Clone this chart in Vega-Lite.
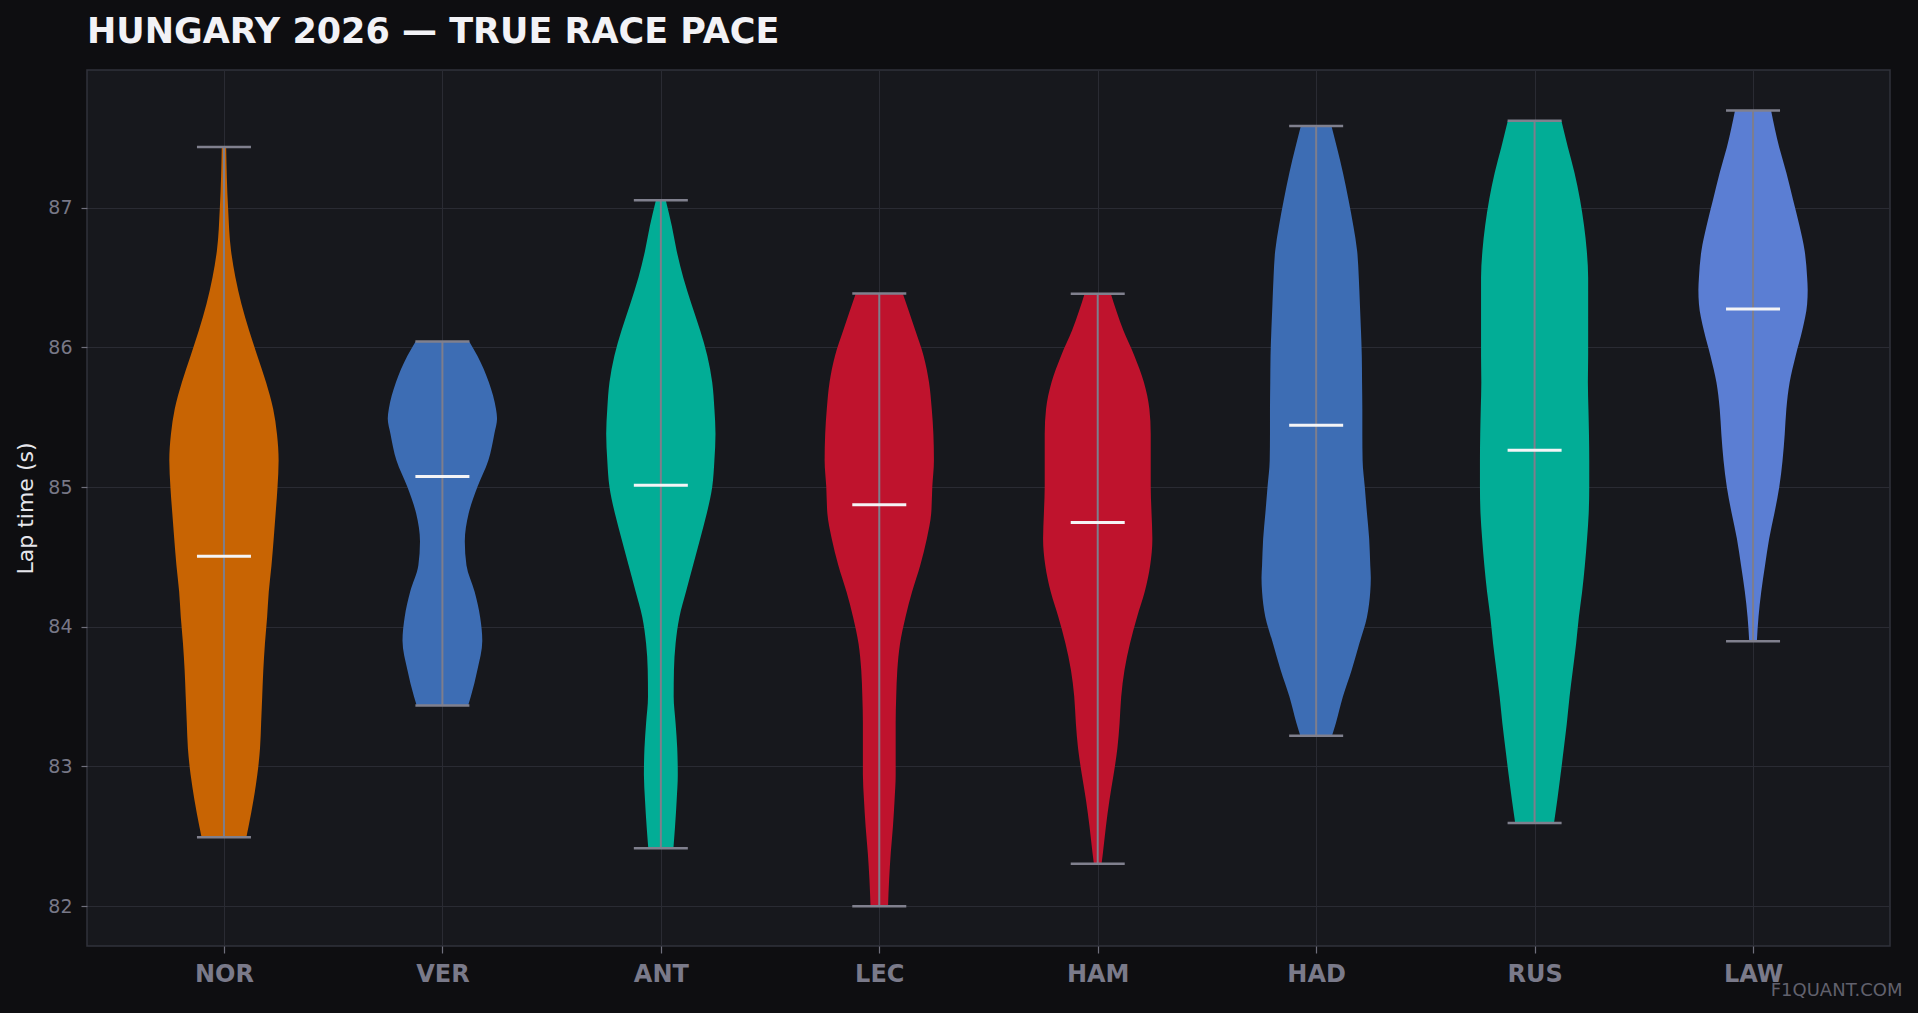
{
  "$schema": "https://vega.github.io/schema/vega-lite/v6.json",
  "width": 1803,
  "height": 876,
  "autosize": {"type": "none"},
  "padding": {"left": 87, "top": 70, "right": 28, "bottom": 67},
  "background": "#0e0e11",
  "config": {
    "font": "DejaVu Sans",
    "view": {"fill": "#17181d", "stroke": "#31323b", "strokeWidth": 1.5}
  },
  "title": {
    "text": "HUNGARY 2026 — TRUE RACE PACE",
    "anchor": "start",
    "frame": "group",
    "orient": "top",
    "baseline": "alphabetic",
    "offset": 26,
    "dy": 34,
    "fontSize": 35,
    "fontWeight": "bold",
    "color": "#f2f2f6",
    "font": "DejaVu Sans"
  },
  "datasets": {
    "violin": [
      {"d": "NOR", "t": 87.434, "w": 0.04}, {"d": "NOR", "t": 87.0, "w": 0.075}, {"d": "NOR", "t": 86.69, "w": 0.13}, {"d": "NOR", "t": 86.5, "w": 0.21}, {"d": "NOR", "t": 86.31, "w": 0.32}, {"d": "NOR", "t": 86.12, "w": 0.46}, {"d": "NOR", "t": 85.94, "w": 0.61}, {"d": "NOR", "t": 85.75, "w": 0.77}, {"d": "NOR", "t": 85.56, "w": 0.9}, {"d": "NOR", "t": 85.38, "w": 0.97}, {"d": "NOR", "t": 85.19, "w": 1.0}, {"d": "NOR", "t": 85.0, "w": 0.98}, {"d": "NOR", "t": 84.81, "w": 0.945}, {"d": "NOR", "t": 84.63, "w": 0.91}, {"d": "NOR", "t": 84.44, "w": 0.87}, {"d": "NOR", "t": 84.25, "w": 0.82}, {"d": "NOR", "t": 84.07, "w": 0.79}, {"d": "NOR", "t": 83.88, "w": 0.75}, {"d": "NOR", "t": 83.69, "w": 0.72}, {"d": "NOR", "t": 83.5, "w": 0.7}, {"d": "NOR", "t": 83.31, "w": 0.68}, {"d": "NOR", "t": 83.13, "w": 0.66}, {"d": "NOR", "t": 82.94, "w": 0.61}, {"d": "NOR", "t": 82.76, "w": 0.54}, {"d": "NOR", "t": 82.57, "w": 0.45}, {"d": "NOR", "t": 82.494, "w": 0.41},
      {"d": "VER", "t": 86.042, "w": 0.49}, {"d": "VER", "t": 85.94, "w": 0.64}, {"d": "VER", "t": 85.75, "w": 0.85}, {"d": "VER", "t": 85.56, "w": 0.98}, {"d": "VER", "t": 85.49, "w": 1.0}, {"d": "VER", "t": 85.38, "w": 0.95}, {"d": "VER", "t": 85.19, "w": 0.84}, {"d": "VER", "t": 85.0, "w": 0.64}, {"d": "VER", "t": 84.81, "w": 0.48}, {"d": "VER", "t": 84.61, "w": 0.41}, {"d": "VER", "t": 84.44, "w": 0.44}, {"d": "VER", "t": 84.25, "w": 0.59}, {"d": "VER", "t": 84.07, "w": 0.69}, {"d": "VER", "t": 83.9, "w": 0.73}, {"d": "VER", "t": 83.69, "w": 0.64}, {"d": "VER", "t": 83.5, "w": 0.52}, {"d": "VER", "t": 83.437, "w": 0.47},
      {"d": "ANT", "t": 87.052, "w": 0.09}, {"d": "ANT", "t": 86.87, "w": 0.2}, {"d": "ANT", "t": 86.69, "w": 0.29}, {"d": "ANT", "t": 86.5, "w": 0.41}, {"d": "ANT", "t": 86.31, "w": 0.56}, {"d": "ANT", "t": 86.12, "w": 0.72}, {"d": "ANT", "t": 85.94, "w": 0.85}, {"d": "ANT", "t": 85.75, "w": 0.94}, {"d": "ANT", "t": 85.56, "w": 0.98}, {"d": "ANT", "t": 85.38, "w": 1.0}, {"d": "ANT", "t": 85.19, "w": 0.98}, {"d": "ANT", "t": 85.0, "w": 0.94}, {"d": "ANT", "t": 84.81, "w": 0.84}, {"d": "ANT", "t": 84.63, "w": 0.72}, {"d": "ANT", "t": 84.44, "w": 0.59}, {"d": "ANT", "t": 84.25, "w": 0.46}, {"d": "ANT", "t": 84.07, "w": 0.34}, {"d": "ANT", "t": 83.88, "w": 0.27}, {"d": "ANT", "t": 83.69, "w": 0.24}, {"d": "ANT", "t": 83.5, "w": 0.235}, {"d": "ANT", "t": 83.31, "w": 0.27}, {"d": "ANT", "t": 83.13, "w": 0.3}, {"d": "ANT", "t": 82.94, "w": 0.31}, {"d": "ANT", "t": 82.76, "w": 0.29}, {"d": "ANT", "t": 82.57, "w": 0.26}, {"d": "ANT", "t": 82.415, "w": 0.23},
      {"d": "LEC", "t": 86.386, "w": 0.43}, {"d": "LEC", "t": 86.12, "w": 0.66}, {"d": "LEC", "t": 85.94, "w": 0.81}, {"d": "LEC", "t": 85.75, "w": 0.91}, {"d": "LEC", "t": 85.56, "w": 0.96}, {"d": "LEC", "t": 85.38, "w": 0.99}, {"d": "LEC", "t": 85.19, "w": 1.0}, {"d": "LEC", "t": 85.0, "w": 0.97}, {"d": "LEC", "t": 84.81, "w": 0.95}, {"d": "LEC", "t": 84.63, "w": 0.87}, {"d": "LEC", "t": 84.44, "w": 0.75}, {"d": "LEC", "t": 84.25, "w": 0.6}, {"d": "LEC", "t": 84.07, "w": 0.48}, {"d": "LEC", "t": 83.88, "w": 0.38}, {"d": "LEC", "t": 83.69, "w": 0.33}, {"d": "LEC", "t": 83.5, "w": 0.31}, {"d": "LEC", "t": 83.31, "w": 0.3}, {"d": "LEC", "t": 82.94, "w": 0.3}, {"d": "LEC", "t": 82.76, "w": 0.28}, {"d": "LEC", "t": 82.57, "w": 0.25}, {"d": "LEC", "t": 82.38, "w": 0.21}, {"d": "LEC", "t": 82.19, "w": 0.18}, {"d": "LEC", "t": 82.0, "w": 0.16},
      {"d": "HAM", "t": 86.383, "w": 0.24}, {"d": "HAM", "t": 86.12, "w": 0.47}, {"d": "HAM", "t": 85.94, "w": 0.67}, {"d": "HAM", "t": 85.75, "w": 0.845}, {"d": "HAM", "t": 85.56, "w": 0.945}, {"d": "HAM", "t": 85.38, "w": 0.97}, {"d": "HAM", "t": 85.19, "w": 0.97}, {"d": "HAM", "t": 85.0, "w": 0.97}, {"d": "HAM", "t": 84.81, "w": 0.985}, {"d": "HAM", "t": 84.63, "w": 1.0}, {"d": "HAM", "t": 84.44, "w": 0.96}, {"d": "HAM", "t": 84.25, "w": 0.86}, {"d": "HAM", "t": 84.07, "w": 0.72}, {"d": "HAM", "t": 83.88, "w": 0.59}, {"d": "HAM", "t": 83.69, "w": 0.49}, {"d": "HAM", "t": 83.5, "w": 0.43}, {"d": "HAM", "t": 83.31, "w": 0.4}, {"d": "HAM", "t": 83.13, "w": 0.36}, {"d": "HAM", "t": 82.94, "w": 0.29}, {"d": "HAM", "t": 82.76, "w": 0.215}, {"d": "HAM", "t": 82.57, "w": 0.15}, {"d": "HAM", "t": 82.38, "w": 0.095}, {"d": "HAM", "t": 82.303, "w": 0.07},
      {"d": "HAD", "t": 87.584, "w": 0.28}, {"d": "HAD", "t": 87.43, "w": 0.38}, {"d": "HAD", "t": 87.25, "w": 0.49}, {"d": "HAD", "t": 87.06, "w": 0.59}, {"d": "HAD", "t": 86.87, "w": 0.68}, {"d": "HAD", "t": 86.69, "w": 0.75}, {"d": "HAD", "t": 86.5, "w": 0.78}, {"d": "HAD", "t": 86.31, "w": 0.8}, {"d": "HAD", "t": 86.12, "w": 0.82}, {"d": "HAD", "t": 85.94, "w": 0.835}, {"d": "HAD", "t": 85.75, "w": 0.84}, {"d": "HAD", "t": 85.56, "w": 0.845}, {"d": "HAD", "t": 85.38, "w": 0.845}, {"d": "HAD", "t": 85.19, "w": 0.85}, {"d": "HAD", "t": 85.0, "w": 0.89}, {"d": "HAD", "t": 84.81, "w": 0.93}, {"d": "HAD", "t": 84.63, "w": 0.97}, {"d": "HAD", "t": 84.44, "w": 0.99}, {"d": "HAD", "t": 84.35, "w": 1.0}, {"d": "HAD", "t": 84.25, "w": 0.99}, {"d": "HAD", "t": 84.07, "w": 0.93}, {"d": "HAD", "t": 83.88, "w": 0.79}, {"d": "HAD", "t": 83.69, "w": 0.65}, {"d": "HAD", "t": 83.5, "w": 0.49}, {"d": "HAD", "t": 83.31, "w": 0.36}, {"d": "HAD", "t": 83.22, "w": 0.29},
      {"d": "RUS", "t": 87.621, "w": 0.49}, {"d": "RUS", "t": 87.43, "w": 0.61}, {"d": "RUS", "t": 87.25, "w": 0.73}, {"d": "RUS", "t": 87.06, "w": 0.83}, {"d": "RUS", "t": 86.87, "w": 0.905}, {"d": "RUS", "t": 86.69, "w": 0.955}, {"d": "RUS", "t": 86.5, "w": 0.98}, {"d": "RUS", "t": 86.31, "w": 0.98}, {"d": "RUS", "t": 86.12, "w": 0.98}, {"d": "RUS", "t": 85.94, "w": 0.98}, {"d": "RUS", "t": 85.75, "w": 0.975}, {"d": "RUS", "t": 85.56, "w": 0.985}, {"d": "RUS", "t": 85.38, "w": 0.995}, {"d": "RUS", "t": 85.19, "w": 1.0}, {"d": "RUS", "t": 85.0, "w": 1.0}, {"d": "RUS", "t": 84.81, "w": 0.99}, {"d": "RUS", "t": 84.63, "w": 0.96}, {"d": "RUS", "t": 84.44, "w": 0.92}, {"d": "RUS", "t": 84.25, "w": 0.87}, {"d": "RUS", "t": 84.07, "w": 0.81}, {"d": "RUS", "t": 83.88, "w": 0.76}, {"d": "RUS", "t": 83.69, "w": 0.7}, {"d": "RUS", "t": 83.5, "w": 0.64}, {"d": "RUS", "t": 83.31, "w": 0.59}, {"d": "RUS", "t": 83.13, "w": 0.535}, {"d": "RUS", "t": 82.94, "w": 0.475}, {"d": "RUS", "t": 82.76, "w": 0.415}, {"d": "RUS", "t": 82.595, "w": 0.355},
      {"d": "LAW", "t": 87.696, "w": 0.33}, {"d": "LAW", "t": 87.43, "w": 0.48}, {"d": "LAW", "t": 87.25, "w": 0.61}, {"d": "LAW", "t": 87.06, "w": 0.73}, {"d": "LAW", "t": 86.87, "w": 0.85}, {"d": "LAW", "t": 86.69, "w": 0.945}, {"d": "LAW", "t": 86.5, "w": 0.99}, {"d": "LAW", "t": 86.41, "w": 1.0}, {"d": "LAW", "t": 86.31, "w": 0.99}, {"d": "LAW", "t": 86.12, "w": 0.9}, {"d": "LAW", "t": 85.94, "w": 0.78}, {"d": "LAW", "t": 85.75, "w": 0.67}, {"d": "LAW", "t": 85.56, "w": 0.61}, {"d": "LAW", "t": 85.38, "w": 0.58}, {"d": "LAW", "t": 85.19, "w": 0.54}, {"d": "LAW", "t": 85.0, "w": 0.48}, {"d": "LAW", "t": 84.81, "w": 0.39}, {"d": "LAW", "t": 84.63, "w": 0.295}, {"d": "LAW", "t": 84.44, "w": 0.22}, {"d": "LAW", "t": 84.25, "w": 0.15}, {"d": "LAW", "t": 84.07, "w": 0.1}, {"d": "LAW", "t": 83.897, "w": 0.07}
    ],
    "ranges": [
      {"d": "NOR", "t": 82.494, "t2": 87.434},
      {"d": "VER", "t": 83.437, "t2": 86.042},
      {"d": "ANT", "t": 82.415, "t2": 87.052},
      {"d": "LEC", "t": 82.0, "t2": 86.386},
      {"d": "HAM", "t": 82.303, "t2": 86.383},
      {"d": "HAD", "t": 83.22, "t2": 87.584},
      {"d": "RUS", "t": 82.595, "t2": 87.621},
      {"d": "LAW", "t": 83.897, "t2": 87.696}
    ],
    "caps": [
      {"d": "NOR", "t": 82.494}, {"d": "NOR", "t": 87.434},
      {"d": "VER", "t": 83.437}, {"d": "VER", "t": 86.042},
      {"d": "ANT", "t": 82.415}, {"d": "ANT", "t": 87.052},
      {"d": "LEC", "t": 82.0}, {"d": "LEC", "t": 86.386},
      {"d": "HAM", "t": 82.303}, {"d": "HAM", "t": 86.383},
      {"d": "HAD", "t": 83.22}, {"d": "HAD", "t": 87.584},
      {"d": "RUS", "t": 82.595}, {"d": "RUS", "t": 87.621},
      {"d": "LAW", "t": 83.897}, {"d": "LAW", "t": 87.696}
    ],
    "medians": [
      {"d": "NOR", "t": 84.504},
      {"d": "VER", "t": 85.076},
      {"d": "ANT", "t": 85.013},
      {"d": "LEC", "t": 84.874},
      {"d": "HAM", "t": 84.747},
      {"d": "HAD", "t": 85.443},
      {"d": "RUS", "t": 85.263},
      {"d": "LAW", "t": 86.274}
    ]
  },
  "encoding": {
    "x": {
      "field": "d",
      "type": "nominal",
      "sort": null,
      "scale": {"type": "point", "domain": ["NOR", "VER", "ANT", "LEC", "HAM", "HAD", "RUS", "LAW"], "padding": 0.627},
      "axis": {
        "domain": false,
        "grid": true,
        "gridColor": "#2a2b33",
        "gridWidth": 1,
        "ticks": true,
        "tickSize": 7,
        "tickColor": "#6f6f7c",
        "tickWidth": 1.2,
        "labelAngle": 0,
        "labelFontSize": 24,
        "labelFontWeight": "bold",
        "labelColor": "#7a7a8a",
        "labelFont": "DejaVu Sans",
        "labelBaseline": "alphabetic",
        "labelPadding": 28,
        "title": "F1QUANT.COM",
        "titleFont": "DejaVu Sans",
        "titleFontSize": 18,
        "titleFontWeight": "normal",
        "titleColor": "#61616d",
        "titleAlign": "right",
        "titleBaseline": "alphabetic",
        "titleX": 1815,
        "titleY": 49
      }
    },
    "y": {
      "field": "t",
      "type": "quantitative",
      "stack": null,
      "scale": {"domain": [81.715, 87.985], "nice": false, "zero": false},
      "axis": {
        "values": [82, 83, 84, 85, 86, 87],
        "domain": false,
        "grid": true,
        "gridColor": "#2a2b33",
        "gridWidth": 1,
        "tickSize": 6,
        "tickColor": "#6f6f7c",
        "tickWidth": 1.2,
        "labelFontSize": 19,
        "labelColor": "#787887",
        "labelFont": "DejaVu Sans",
        "labelPadding": 9,
        "title": "Lap time (s)",
        "titleFont": "DejaVu Sans",
        "titleFontSize": 22,
        "titleFontWeight": "normal",
        "titleColor": "#e6e6ec",
        "titleAngle": 270,
        "titleAlign": "center",
        "titleBaseline": "alphabetic",
        "titleX": -55,
        "titleY": 438
      }
    }
  },
  "layer": [
    {
      "data": {"name": "violin"},
      "mark": {"type": "area", "orient": "horizontal", "interpolate": "monotone", "opacity": 1},
      "encoding": {
        "x2": {"field": "d"},
        "xOffset": {"field": "w", "type": "quantitative", "scale": {"domain": [0, 1], "range": [0, -54.65], "zero": false, "nice": false}},
        "color": {
          "field": "d",
          "type": "nominal",
          "scale": {"domain": ["NOR", "VER", "ANT", "LEC", "HAM", "HAD", "RUS", "LAW"], "range": ["#c86403", "#3d6db4", "#02ad96", "#bf132d", "#bf132d", "#3d6db4", "#02ad96", "#5b7ed3"]},
          "legend": null
        }
      }
    },
    {
      "data": {"name": "violin"},
      "mark": {"type": "area", "orient": "horizontal", "interpolate": "monotone", "opacity": 1},
      "encoding": {
        "x2": {"field": "d"},
        "xOffset": {"field": "w", "type": "quantitative", "scale": {"domain": [0, 1], "range": [0, 54.65], "zero": false, "nice": false}},
        "color": {"field": "d", "type": "nominal", "legend": null}
      }
    },
    {
      "data": {"name": "ranges"},
      "mark": {"type": "rule", "color": "#7e7e8c", "strokeWidth": 2},
      "encoding": {
        "y2": {"field": "t2"}
      }
    },
    {
      "data": {"name": "caps"},
      "mark": {"type": "tick", "color": "#80808e", "size": 54, "thickness": 2.5, "opacity": 1}
    },
    {
      "data": {"name": "medians"},
      "mark": {"type": "tick", "color": "#f4f4f6", "size": 54, "thickness": 3, "opacity": 1}
    }
  ],
  "resolve": {"scale": {"xOffset": "independent"}}
}
